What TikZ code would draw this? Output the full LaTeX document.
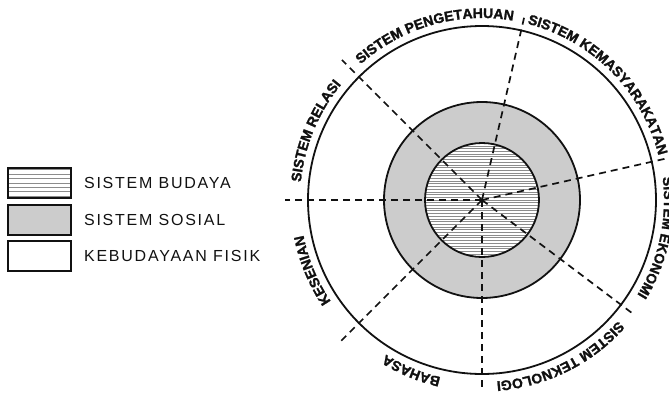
\documentclass[tikz,border=0pt]{standalone}
\usepackage{fontspec}
\setmainfont{Liberation Sans}
\newfontfamily\keyfont[LetterSpace=11]{Liberation Sans}
\newfontfamily\arcfamily[FakeBold=1.6]{Liberation Sans Bold}
\usepackage{xcolor}
\definecolor{inkcolor}{HTML}{111111}
\definecolor{ringfill}{HTML}{CCCCCC}
\definecolor{hatchcolor}{HTML}{8C8C8C}
\usepackage{tikz}
\usetikzlibrary{positioning,decorations.text}
\newcommand{\arcfont}{\arcfamily\fontsize{14}{16}\selectfont}
\tikzset{
    ring/.style={
        circle,
        draw=inkcolor,
        line width=1.8pt,
        inner sep=0pt,
    },
    spoke/.style={
        draw=inkcolor,
        line width=1.7pt,
        dash pattern=on 7pt off 5pt,
    },
    hatch/.style={
        draw=hatchcolor,
        line width=0.8pt,
    },
    keybox/.style={
        rectangle,
        draw=inkcolor,
        fill=white,
        line width=1.8pt,
        minimum width=63pt,
        minimum height=30pt,
        inner sep=0pt,
    },
    keytext/.style={
        font=\keyfont\fontsize{16}{18}\selectfont,
        text=inkcolor,
        inner sep=0pt,
    },
    arclabel/.style={
        font=\arcfont,
        decorate,
        decoration={text along path, text align=center,
                    text color=inkcolor, text={|\arcfont|#1}},
    },
}

\begin{document}
\begin{tikzpicture}[x=1pt,y=1pt]
    \useasboundingbox (0,0) rectangle (669,400);
    \clip (0,0) rectangle (669,400);

    % Centre of the rings
    \coordinate (ctr) at (482,200);

    % Rings (outer = kebudayaan fisik, middle = sistem sosial, inner = sistem budaya)
    \node[ring, fill=white, minimum size=348pt] (fisik) at (ctr) {};
    \node[ring, fill=ringfill, minimum size=196pt] (sosial) at (ctr) {};
    \node[ring, fill=white, minimum size=114pt,
          path picture={
              \foreach \k in {-22,...,22} {
                  \draw[hatch] ([shift={(-60pt,\k*2.7pt)}]ctr) -- ++(120pt,0);
              }
          }] (budaya) at (ctr) {};

    % Spokes dividing the outer ring
    \foreach \ang/\len in {180/197, 135/198, 77/192, 12.7/205, -37/187, -90/190, -135/199} {
        \draw[spoke] (ctr) -- ++(\ang:\len pt);
    }

    % Labels along the outer ring (clockwise, tops outward)
    \path[arclabel={SISTEM RELASI}]
        ([shift={(180:182pt)}]ctr) arc[start angle=180, end angle=135, radius=182pt];
    \path[arclabel={SISTEM PENGETAHUAN}]
        ([shift={(135:182pt)}]ctr) arc[start angle=135, end angle=77, radius=182pt];
    \path[arclabel={SISTEM KEMASYARAKATAN}]
        ([shift={(77:182pt)}]ctr) arc[start angle=77, end angle=12.7, radius=182pt];
    \path[arclabel={SISTEM EKONOMI}]
        ([shift={(12.7:182pt)}]ctr) arc[start angle=12.7, end angle=-37, radius=182pt];
    \path[arclabel={SISTEM TEKNOLOGI}]
        ([shift={(-37:182pt)}]ctr) arc[start angle=-37, end angle=-90, radius=182pt];
    \path[arclabel={BAHASA}]
        ([shift={(-90:182pt)}]ctr) arc[start angle=-90, end angle=-135, radius=182pt];
    \path[arclabel={KESENIAN}]
        ([shift={(-135:182pt)}]ctr) arc[start angle=-135, end angle=-180, radius=182pt];

    % Legend
    \node[keybox,
          path picture={
              \foreach \k in {-3,...,3} {
                  \draw[hatch] ([shift={(-35pt,\k*4.4pt)}]kbudaya.center) -- ++(70pt,0);
              }
          }] (kbudaya) at (39.5,217) {};
    \node[keybox, fill=ringfill] (ksosial) at (39.5,180) {};
    \node[keybox] (kfisik) at (39.5,144) {};

    \node[keytext, right=12pt of kbudaya] (tbudaya) {SISTEM BUDAYA};
    \node[keytext, right=12pt of ksosial] (tsosial) {SISTEM SOSIAL};
    \node[keytext, right=12pt of kfisik] (tfisik) {KEBUDAYAAN FISIK};
\end{tikzpicture}
\end{document}
